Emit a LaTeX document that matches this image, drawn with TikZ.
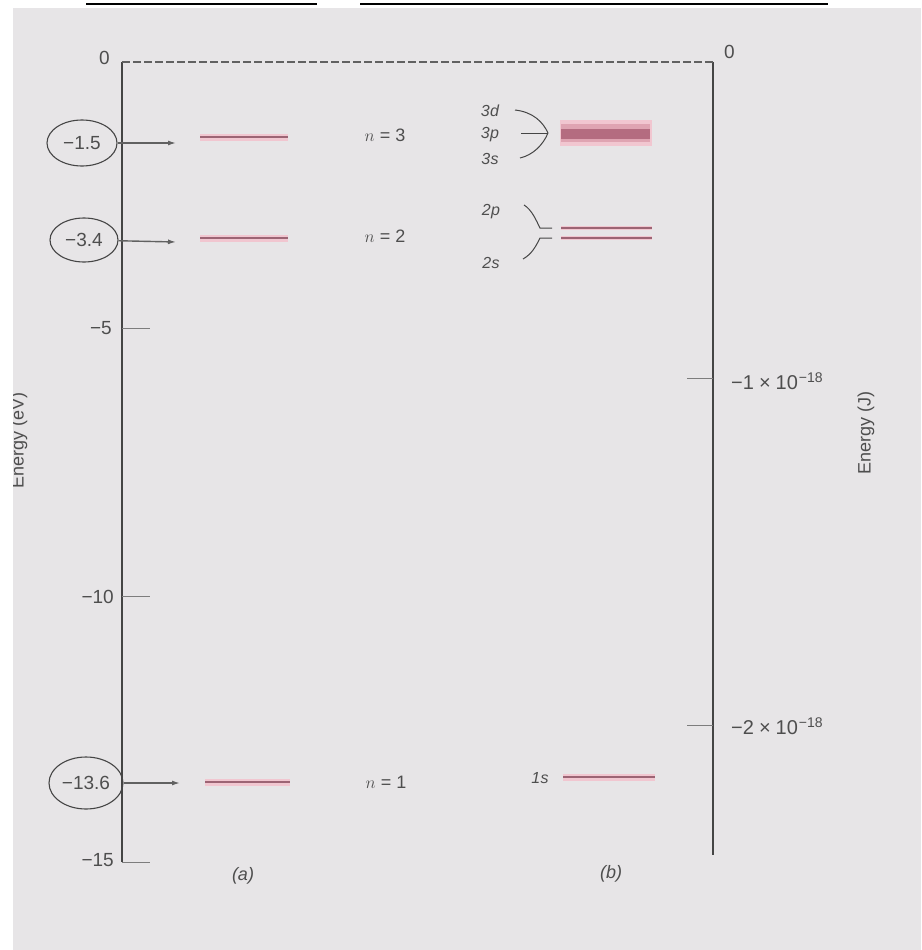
\documentclass[tikz,border=0pt]{standalone}
\usepackage{fontspec}
\setmainfont{Liberation Sans}
\usetikzlibrary{arrows.meta,shapes.geometric}
\definecolor{bggray}{HTML}{E7E5E7}
\definecolor{txtgray}{HTML}{4E4E4E}
\definecolor{axgray}{HTML}{454545}
\definecolor{lvldark}{HTML}{9C6474}
\definecolor{lvlpink}{HTML}{F1C6D0}
\definecolor{bandpink}{HTML}{DFA4B2}
\definecolor{banddark}{HTML}{B46C80}
\tikzset{
  axisline/.style={draw=axgray,line width=1.3pt},
  tickline/.style={draw=axgray!70,line width=1pt},
  ticklbl/.style={text=txtgray,font=\fontsize{19}{22}\selectfont,inner sep=1pt},
  rticklbl/.style={text=txtgray,font=\fontsize{20}{22}\selectfont,inner sep=1pt},
  lbl/.style={text=txtgray,font=\fontsize{18}{21}\selectfont,inner sep=1pt},
  orb/.style={text=txtgray,font=\fontsize{16}{18}\selectfont\itshape,inner sep=0.5pt},
  circ/.style={ellipse,draw=axgray,line width=1.1pt,text=txtgray,inner sep=0pt,
    font=\fontsize{19}{21}\selectfont},
  arr/.style={draw=axgray!85,line width=1.4pt,-{Latex[length=8pt,width=5pt]}},
  lvlhalo/.style={draw=lvlpink,line width=7pt},
  lvl/.style={draw=lvldark,line width=2.6pt},
  brk/.style={draw=axgray,line width=1pt},
}
\begin{document}
\begin{tikzpicture}[x=1pt,y=-1pt]
\useasboundingbox (0,0) rectangle (921,950);
\fill[white] (0,0) rectangle (921,950);
\fill[bggray] (13,8) rectangle (921,950);
% top black rules
\draw[black,line width=2.5pt] (86,4) -- (317,4);
\draw[black,line width=2.5pt] (360,4) -- (828,4);

% axes
\coordinate (la0) at (122,62);
\coordinate (la15) at (122,862);
\coordinate (ra0) at (713,62);
\coordinate (raE) at (713,855);
\draw[axisline] (la0) -- (la15);
\draw[axisline] (ra0) -- (raE);
\draw[draw=axgray!85,line width=1.1pt,dash pattern=on 8pt off 3pt] (la0) -- (ra0);

% left ticks
\coordinate (t5) at (122,328);
\coordinate (t10) at (122,596);
\coordinate (t15) at (122,862);
\coordinate (t5e) at (150,328);
\coordinate (t10e) at (150,596);
\coordinate (t15e) at (150,862);
\draw[tickline] (t5) -- (t5e);
\draw[tickline] (t10) -- (t10e);
\draw[tickline] (t15) -- (t15e);
\node[ticklbl,anchor=east] (l0) at (111,58) {0};
\node[ticklbl,anchor=east] (l5) at (113,328) {−5};
\node[ticklbl,anchor=east] (l10) at (115,597) {−10};
\node[ticklbl,anchor=east] (l15) at (115,860) {−15};

% right ticks
\coordinate (r1) at (713,378);
\coordinate (r2) at (713,725);
\coordinate (r1e) at (687,378);
\coordinate (r2e) at (687,725);
\draw[tickline] (r1e) -- (r1);
\draw[tickline] (r2e) -- (r2);
\node[ticklbl,anchor=west] (rl0) at (723,52) {0};
\node[rticklbl,anchor=west] (rl1) at (730,381) {−1\hspace{5pt}×\hspace{5pt}10\textsuperscript{\hspace{1pt}−18}};
\node[rticklbl,anchor=west] (rl2) at (730,726) {−2\hspace{5pt}×\hspace{5pt}10\textsuperscript{\hspace{1pt}−18}};

% axis titles
\node[lbl,rotate=90] (etl) at (19,440) {Energy (eV)};
\node[lbl,rotate=90] (etr) at (866,433) {Energy (J)};
\fill[white] (0,8) rectangle (13,950);

% circled values and arrows
\node[circ,minimum width=70pt,minimum height=46pt] (c1) at (82,143) {−1.5};
\node[circ,minimum width=68pt,minimum height=44pt] (c2) at (84,240) {−3.4};
\node[circ,minimum width=74pt,minimum height=52pt] (c3) at (86,783) {−13.6};
\coordinate (a1) at (176,143);
\coordinate (a2) at (176,242);
\coordinate (a3) at (180,783);
\draw[arr] (c1) -- (a1);
\draw[arr] (c2) -- (a2);
\draw[arr] (c3) -- (a3);

% (a) levels
\coordinate (n3a) at (200,137); \coordinate (n3b) at (288,137);
\coordinate (n2a) at (200,238); \coordinate (n2b) at (288,238);
\coordinate (n1a) at (205,782); \coordinate (n1b) at (290,782);
\draw[lvlhalo] (n3a) -- (n3b);
\draw[lvlhalo] (n2a) -- (n2b);
\draw[lvlhalo] (n1a) -- (n1b);
\draw[lvl] (n3a) -- (n3b);
\draw[lvl] (n2a) -- (n2b);
\draw[lvl] (n1a) -- (n1b);
\node[lbl] (ln3) at (385,135) {$n$ = 3};
\node[lbl] (ln2) at (385,236) {$n$ = 2};
\node[lbl] (ln1) at (386,782) {$n$ = 1};
\node[lbl] (la) at (243,876) {\itshape (a)};

% (b) levels
\fill[lvlpink] (560,120) rectangle (652,146);
\fill[bandpink] (561,124) rectangle (650,142);
\fill[banddark] (561,129) rectangle (650,139);
\coordinate (p2a) at (561,228); \coordinate (p2b) at (652,228);
\coordinate (s2a) at (561,238); \coordinate (s2b) at (652,238);
\coordinate (s1a) at (563,777); \coordinate (s1b) at (655,777);
\draw[draw=lvlpink,line width=4.5pt] (p2a) -- (p2b);
\draw[draw=lvlpink,line width=4.5pt] (s2a) -- (s2b);
\draw[lvlhalo] (s1a) -- (s1b);
\draw[draw=lvldark,line width=2.6pt] (p2a) -- (p2b);
\draw[draw=lvldark,line width=2.6pt] (s2a) -- (s2b);
\draw[lvl] (s1a) -- (s1b);

\node[orb] (o3d) at (490,111) {3\kern0.3pt d};
\node[orb] (o3p) at (490,135) {3\kern0.3pt p};
\node[orb] (o3s) at (490,159) {3\kern0.3pt s};
\node[orb] (o2p) at (491,212) {2\kern0.3pt p};
\node[orb] (o2s) at (491,263) {2\kern0.3pt s};
\node[orb] (o1s) at (540,778) {1\kern0.3pt s};
\node[lbl] (lb) at (611,874) {\itshape (b)};

% brackets
\coordinate (v3) at (548,133);
\draw[brk] (515,110) .. controls (533,112) and (543,122) .. (v3);
\draw[brk] (v3) .. controls (543,145) and (533,155) .. (520,158);
\draw[brk] (521,133) -- (v3);
\draw[brk] (524,205) .. controls (532,210) and (536,220) .. (540,228) -- (552,228);
\draw[brk] (552,238) -- (540,238) .. controls (536,246) and (532,254) .. (523,259);
\end{tikzpicture}
\end{document}
